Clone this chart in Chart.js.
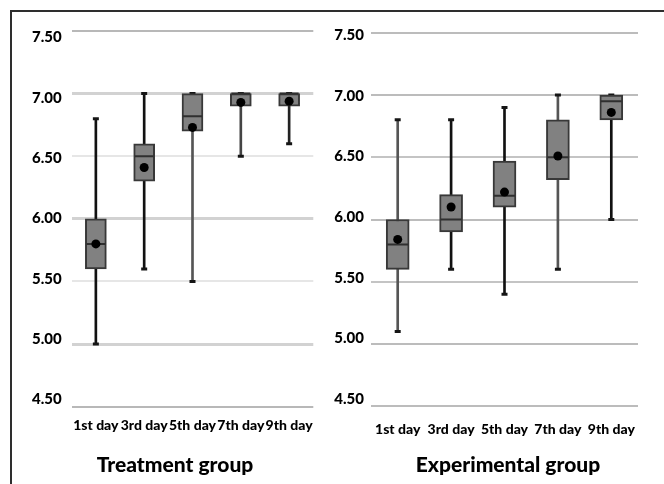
<!DOCTYPE html>
<html><head><meta charset="utf-8">
<script src="https://cdn.jsdelivr.net/npm/chart.js@4.4.1/dist/chart.umd.min.js"></script>
<style>
html,body{margin:0;padding:0;background:#fff;}
#wrap{position:relative;width:664px;height:484px;overflow:hidden;background:#fff;}
#frame{position:absolute;left:10px;top:10px;width:700px;height:520px;border-top:2px solid #2e2e2e;border-left:2px solid #2e2e2e;}
canvas{position:absolute;}
.gt{position:absolute;top:454px;width:240px;text-align:center;font-family:Lato,"Liberation Sans",Arial,sans-serif;font-weight:900;font-size:21px;line-height:20px;color:#000;white-space:nowrap;}
</style></head><body>
<div id="wrap">
<div id="frame"></div>
<canvas id="c1" width="318" height="440" style="left:12px;top:12px;width:318px;height:440px;"></canvas>
<canvas id="c2" width="320" height="440" style="left:334px;top:12px;width:320px;height:440px;"></canvas>
<div class="gt" id="t1" style="left:55px;"></div>
<div class="gt" id="t2" style="left:388px;"></div>
</div>
<script>
// ---- data ----
const categories = ['1st day', '3rd day', '5th day', '7th day', '9th day'];
const yTickValues = [4.5, 5.0, 5.5, 6.0, 6.5, 7.0, 7.5];
const groupTitles = ['Treatment group', 'Experimental group'];

const treatMin    = [5.0, 5.6, 5.5, 6.5, 6.6];
const treatQ1     = [5.6, 6.3, 6.7, 6.9, 6.9];
const treatMedian = [5.8, 6.5, 6.82, 7.0, 7.0];
const treatMean   = [5.8, 6.41, 6.73, 6.93, 6.94];
const treatQ3     = [6.0, 6.6, 7.0, 7.0, 7.0];
const treatMax    = [6.8, 7.0, 7.0, 7.0, 7.0];

const expMin    = [5.1, 5.6, 5.4, 5.6, 6.0];
const expQ1     = [5.6, 5.9, 6.1, 6.32, 6.8];
const expMedian = [5.8, 6.0, 6.19, 6.5, 6.95];
const expMean   = [5.84, 6.1, 6.22, 6.51, 6.86];
const expQ3     = [6.0, 6.2, 6.47, 6.8, 7.0];
const expMax    = [6.8, 6.8, 6.9, 7.0, 7.0];

document.getElementById('t1').textContent = groupTitles[0];
document.getElementById('t2').textContent = groupTitles[1];

const FONT = 'Lato';
const WEIGHT = 900;

function build(canvasId, s, o) {
  const box = s.q1.map((v, i) => [v, s.q3[i]]);
  const whisker = s.min.map((v, i) => [v, s.max[i]]);
  const capStyle = {type: 'line', showLine: false, pointStyle: 'line', pointRadius: 3,
                    pointBorderColor: '#151515', pointBorderWidth: 3, borderColor: '#151515', order: 3};
  new Chart(document.getElementById(canvasId), {
    type: 'bar',
    data: {
      labels: categories,
      datasets: [
        {type: 'line', data: s.mean, showLine: false, pointStyle: 'circle', pointRadius: 4.5,
         pointBackgroundColor: '#000', pointBorderColor: '#000', pointBorderWidth: 0, borderColor: '#000', order: 0},
        {type: 'line', data: s.median, showLine: false, pointStyle: 'line', pointRadius: o.boxW / 2 - 1,
         pointBorderColor: '#2f2f2f', pointBorderWidth: 2, borderColor: '#2f2f2f', order: 1},
        {type: 'bar', data: box, grouped: false, barThickness: o.boxW, backgroundColor: '#818181',
         borderColor: '#383838', borderWidth: 2, borderSkipped: false, order: 2},
        Object.assign({data: s.max}, capStyle),
        Object.assign({data: s.min}, capStyle),
        {type: 'bar', data: whisker, grouped: false, barThickness: 2, backgroundColor: o.whiskerColors,
         borderWidth: 0, order: 4}
      ]
    },
    options: {
      responsive: false, animation: false, events: [],
      layout: {padding: {left: 0, top: o.padTop, right: o.padRight, bottom: 0}},
      plugins: {legend: {display: false}, tooltip: {enabled: false}},
      scales: {
        x: {
          type: 'category', offset: true,
          grid: {display: false, drawTicks: false}, border: {display: false},
          ticks: {autoSkip: false, maxRotation: 0, minRotation: 0, padding: o.xPad, color: '#000',
                  font: {family: FONT, weight: WEIGHT, size: 14}},
          afterFit: (sc) => { sc.height = o.xH; }
        },
        y: {
          type: 'linear', position: 'left', min: 4.5, max: 7.5,
          ticks: {display: false, stepSize: 0.5},
          grid: {color: (c) => o.gridColors[c.index], lineWidth: (c) => o.gridWidths[c.index], drawTicks: false},
          border: {display: false},
          afterFit: (sc) => { sc.width = 0; }
        },
        yl: {
          type: 'linear', position: 'left', min: o.lblMin, max: o.lblMax,
          grid: {display: false, drawTicks: false}, border: {display: false},
          afterBuildTicks: (sc) => { sc.ticks = yTickValues.map(v => ({value: v})); },
          ticks: {padding: o.yPad, color: '#000', font: {family: FONT, weight: WEIGHT, size: 15},
                  callback: (v) => Number(v).toFixed(2)},
          afterFit: (sc) => { sc.width = o.yW; }
        }
      }
    }
  });
}

build('c1',
  {min: treatMin, q1: treatQ1, median: treatMedian, mean: treatMean, q3: treatQ3, max: treatMax},
  {boxW: 21, padTop: 16.7, padRight: 16.7, xH: 45.3, xPad: 10, yW: 59.7, yPad: 10,
   lblMin: 4.439, lblMax: 7.553,
   whiskerColors: ['#111', '#111', '#555', '#444', '#222'],
   gridColors: ['#b8b8b8', '#d2d2d2', '#e6e6e6', '#d2d2d2', '#e6e6e6', '#d2d2d2', '#b8b8b8'],
   gridWidths: [2, 3, 2, 3, 2, 3, 2]});

build('c2',
  {min: expMin, q1: expQ1, median: expMedian, mean: expMean, q3: expQ3, max: expMax},
  {boxW: 23, padTop: 20.7, padRight: 16, xH: 45.7, xPad: 15, yW: 37, yPad: 7,
   lblMin: 4.442, lblMax: 7.520,
   whiskerColors: ['#555', '#111', '#111', '#555', '#111'],
   gridColors: ['#bcbcbc', '#bcbcbc', '#c4c4c4', '#bcbcbc', '#c4c4c4', '#bcbcbc', '#bcbcbc'],
   gridWidths: [2, 2, 2, 2, 2, 2, 2]});
</script>
</body></html>
